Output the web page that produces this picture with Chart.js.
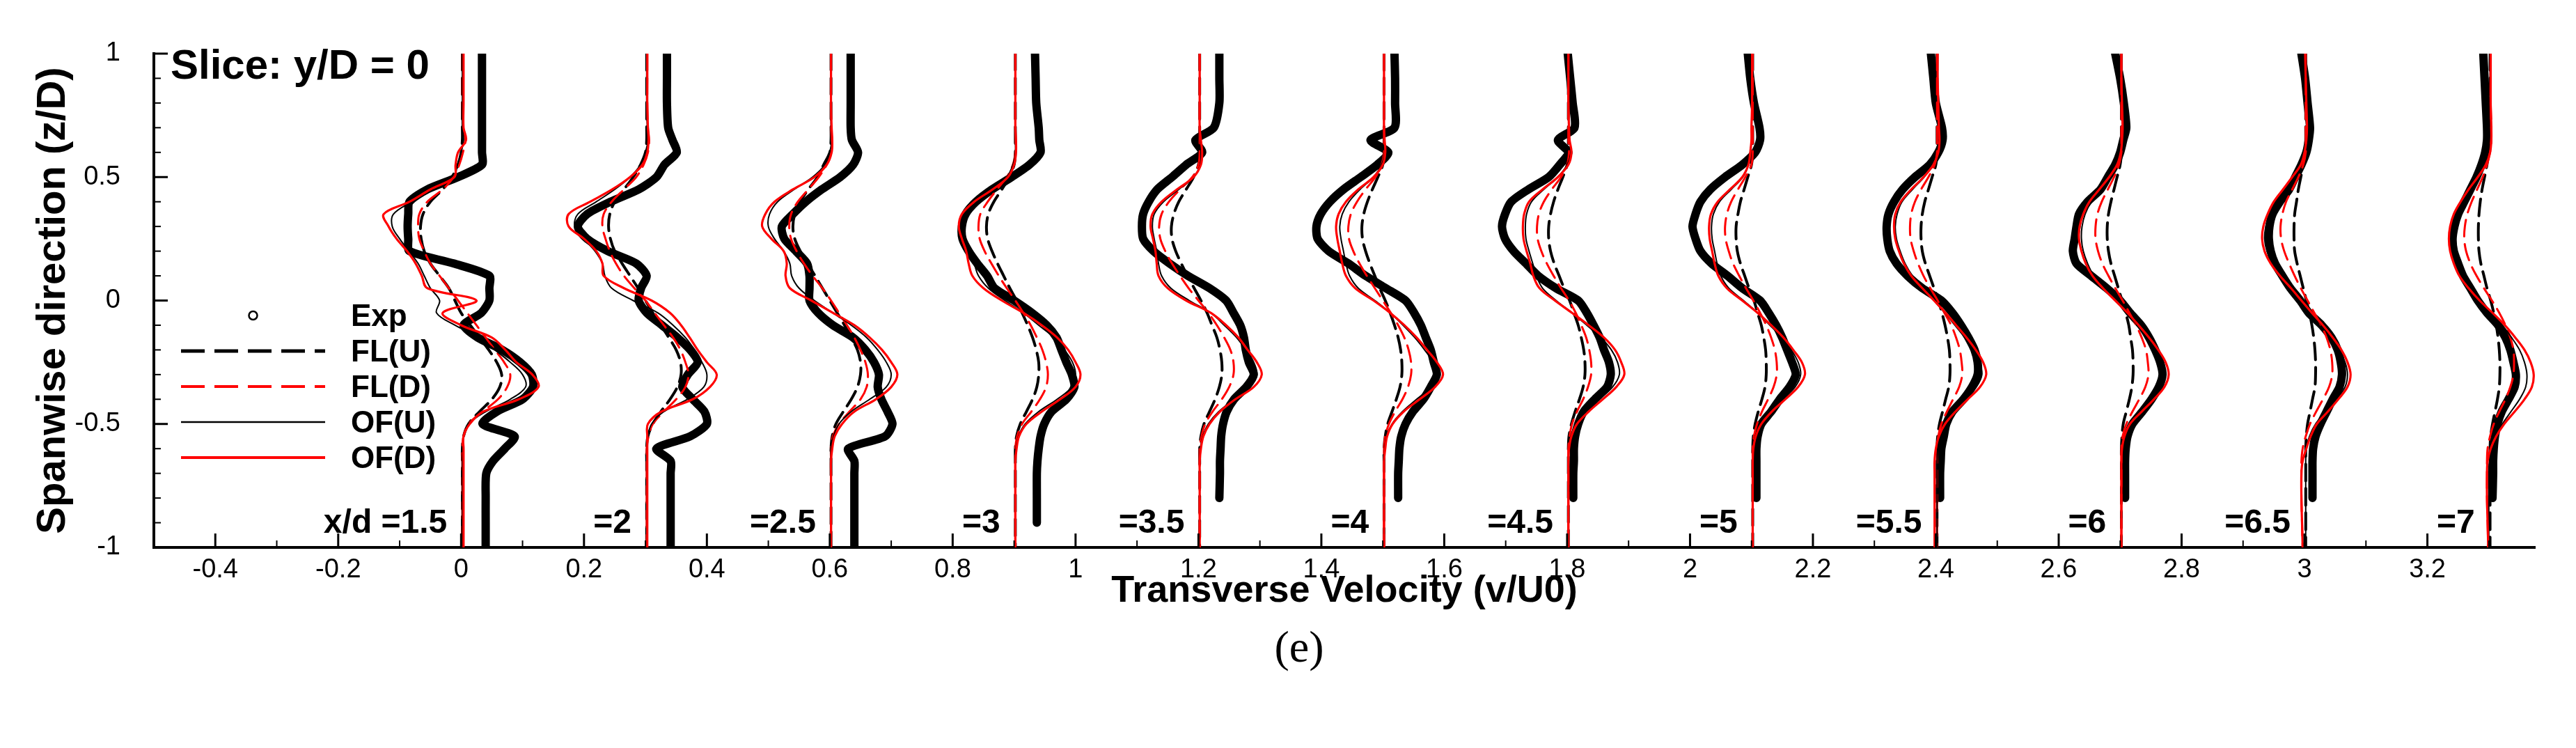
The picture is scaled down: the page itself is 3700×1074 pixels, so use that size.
<!DOCTYPE html>
<html>
<head>
<meta charset="utf-8">
<script src="https://cdn.jsdelivr.net/npm/chart.js@4.4.1/dist/chart.umd.min.js"></script>
<style>
  html, body { margin: 0; padding: 0; background: #fff; }
  #wrap { width: 3700px; height: 1074px; }
</style>
</head>
<body>
<div id="wrap"><canvas id="chart" width="3700" height="1074"></canvas></div>
<script>
const Z = [1, 0.9, 0.8, 0.7, 0.65, 0.6, 0.55, 0.5, 0.45, 0.4, 0.35, 0.3, 0.25, 0.2, 0.15, 0.1, 0.05, 0,
  -0.05, -0.1, -0.15, -0.2, -0.25, -0.3, -0.35, -0.4, -0.45, -0.5, -0.55, -0.6, -0.65, -0.7, -0.8, -0.9, -1];

// each profile is plotted shifted by 0.3 per station
const STATIONS = [0, 0.3, 0.6, 0.9, 1.2, 1.5, 1.8, 2.1, 2.4, 2.7, 3.0, 3.3];
const STATION_LABELS = ['x/d =1.5', '=2', '=2.5', '=3', '=3.5', '=4', '=4.5', '=5', '=5.5', '=6', '=6.5', '=7'];

const X_TICKS = [-0.4, -0.2, 0, 0.2, 0.4, 0.6, 0.8, 1, 1.2, 1.4, 1.6, 1.8, 2, 2.2, 2.4, 2.6, 2.8, 3, 3.2];
const Y_TICKS = [-1, -0.5, 0, 0.5, 1];

// v/U0 per station (rows) at each Z (columns)
const EXP = [
  [.034,.034,.034,.034,.034,.034,.034, -.005,-.055,-.084,-.086,-.087,-.086,-.084,-.012,.046,.046, .046, .033,.004,.027,.067,.096,.115,.117,.1,.058,.035, .087,.071,.052,.041,.04,.04,.04],
  [.035,.035,.035,.037,.044,.051,.031, .018,-.011,-.057,-.095,-.11,-.095,-.061,-.015,.002,-.007, -.011, .002,.027,.052,.073,.085,.069,.06,.077,.096,.1, .073,.018,.041,.041,.041,.041,.041],
  [.034,.034,.034,.034,.036,.046,.038, .017,-.013,-.039,-.06,-.078,-.074,-.055,-.037,-.033,-.033, -.033, -.019,.005,.038,.058,.072,.08,.078,.084,.094,.102, .09,.03,.04,.04,.04,.04,.04],
  [.034,.035,.036,.04,.041,.043,.025, -.004,-.036,-.062,-.079,-.085,-.084,-.074,-.06,-.044,-.032, 0, .029,.053,.069,.077,.085,.094,.098,.085,.061,.049, .043,.04,.038,.037,.037,.037,null],
  [.034,.034,.034,.025,-.005,.006,-.02, -.043,-.067,-.081,-.09,-.092,-.09,-.073,-.047,-.017,.018, .045, .057,.068,.074,.077,.082,.09,.078,.058,.046,.04, .037,.036,.035,.035,.034,null,null],
  [.019,.02,.02,.019,-.02,.009,-.009, -.036,-.064,-.086,-.101,-.108,-.106,-.088,-.056,-.028,.005, .037, .051,.062,.07,.078,.083,.088,.078,.066,.049,.037, .03,.027,.026,.025,.025,null,null],
  [.001,.005,.009,.012,-.015,.002,-.012, -.03,-.063,-.091,-.101,-.106,-.101,-.087,-.067,-.047,-.018, .018, .032,.043,.053,.06,.068,.071,.065,.045,.027,.018, .013,.011,.011,.01,.01,null,null],
  [-.006,-.002,.004,.013,.014,.006,-.015, -.043,-.067,-.083,-.091,-.096,-.091,-.083,-.065,-.039,-.015, .014, .028,.04,.05,.058,.066,.072,.062,.046,.032,.016, .01,.008,.008,.008,.008,null,null],
  [-.008,-.004,0,.01,.011,.004,-.01, -.034,-.054,-.068,-.077,-.08,-.079,-.075,-.064,-.046,-.022, .009, .027,.041,.053,.063,.068,.068,.059,.045,.027,.017, .013,.009,.008,.007,.007,null,null],
  [-.008,0,.006,.01,.005,0,-.008, -.02,-.032,-.053,-.067,-.071,-.074,-.077,-.071,-.047,-.022, 0, .016,.034,.047,.057,.065,.069,.063,.051,.036,.02, .012,.009,.008,.008,.008,null,null],
  [-.005,.001,.005,.009,.007,.003,-.005, -.015,-.025,-.04,-.052,-.057,-.058,-.055,-.048,-.036,-.023, -.007, .007,.028,.044,.054,.059,.061,.057,.046,.036,.026, .018,.014,.013,.013,.013,null,null],
  [-.009,-.007,-.005,-.003,-.003,-.006,-.012, -.02,-.03,-.04,-.05,-.056,-.059,-.057,-.05,-.042,-.03, -.018, -.003,.015,.027,.035,.04,.044,.042,.032,.021,.014, .01,.008,.007,.007,.006,null,null]
];

const FLU = [
  [.002,.002,.002,.002,.002,0,-.005, -.015,-.03,-.05,-.062,-.066,-.065,-.06,-.05,-.035,-.02, -.01, 0,.015,.03,.045,.058,.066,.063,.05,.03,.012, .004,.002,.002,.002,.002,.002,.002],
  [.002,.002,.002,.002,.002,0,-.008, -.02,-.035,-.05,-.058,-.06,-.057,-.05,-.038,-.025,-.012, 0, .012,.025,.038,.05,.057,.058,.052,.04,.025,.012, .004,.002,.002,.002,.002,.002,.002],
  [.002,.002,.002,.002,.002,0,-.01, -.02,-.035,-.048,-.057,-.06,-.057,-.048,-.036,-.024,-.012, 0, .012,.024,.035,.045,.05,.05,.045,.035,.022,.01, .004,.002,.002,.002,.002,.002,.002],
  [.002,.002,.002,.002,.002,.002,0, -.008,-.02,-.033,-.042,-.045,-.043,-.036,-.027,-.017,-.007, .004, .013,.022,.03,.036,.04,.04,.037,.03,.02,.01, .004,.002,.002,.002,.002,.002,.002],
  [.002,.002,.002,.002,.002,.002,0, -.008,-.02,-.032,-.04,-.044,-.043,-.037,-.028,-.018,-.007, .004, .014,.022,.03,.035,.038,.038,.034,.027,.018,.009, .004,.002,.002,.002,.002,.002,.002],
  [.002,.002,.002,.002,.002,.002,0, -.008,-.017,-.025,-.031,-.034,-.033,-.028,-.021,-.013,-.005, .004, .012,.019,.025,.029,.031,.031,.028,.022,.015,.008, .004,.002,.002,.002,.002,.002,.002],
  [.002,.002,.002,.002,.002,.002,0, -.007,-.015,-.022,-.027,-.03,-.03,-.027,-.021,-.013,-.005, .004, .011,.018,.023,.027,.029,.029,.026,.02,.013,.007, .003,.002,.002,.002,.002,.002,.002],
  [.002,.002,.002,.002,.002,.002,0, -.006,-.012,-.018,-.022,-.025,-.025,-.023,-.018,-.011,-.004, .004, .01,.016,.02,.023,.024,.024,.022,.017,.011,.006, .003,.002,.002,.002,.002,.002,.002],
  [.002,.002,.002,.002,.002,.002,0, -.006,-.012,-.018,-.022,-.024,-.024,-.022,-.017,-.01,-.003, .004, .01,.015,.019,.022,.023,.023,.021,.016,.011,.006, .003,.002,.002,.002,.002,.002,.002],
  [.002,.002,.002,.002,.002,.002,0, -.005,-.01,-.015,-.019,-.021,-.021,-.019,-.015,-.009,-.003, .003, .009,.014,.017,.02,.021,.021,.019,.015,.01,.005, .003,.002,.002,.002,.002,.002,.002],
  [.002,.002,.002,.002,.002,.001,-.002, -.006,-.01,-.013,-.016,-.017,-.017,-.016,-.012,-.007,-.002, .003, .008,.012,.015,.017,.018,.018,.017,.013,.009,.005, .003,.002,.002,.002,.002,.002,.002],
  [.002,.002,.002,.002,.002,0,-.003, -.007,-.011,-.014,-.016,-.017,-.017,-.016,-.013,-.008,-.003, .003, .008,.012,.015,.017,.018,.018,.017,.014,.01,.006, .003,.002,.002,.002,.002,.002,.002]
];

const FLD = [
  [.002,.002,.002,.003,.007,.003,-.003, -.012,-.03,-.055,-.068,-.07,-.068,-.06,-.05,-.035,-.02, -.005, .01,.025,.04,.055,.07,.08,.075,.06,.035,.012, .004,.002,.002,.002,.002,.002,.002],
  [.003,.003,.003,.004,.006,.004,-.003, -.015,-.035,-.055,-.068,-.07,-.065,-.058,-.048,-.035,-.018, 0, .015,.03,.045,.057,.065,.07,.065,.05,.03,.012, .005,.002,.002,.002,.002,.002,.002],
  [.002,.002,.002,.002,.003,.002,-.005, -.018,-.035,-.052,-.063,-.066,-.063,-.054,-.042,-.028,-.012, .002, .015,.028,.04,.05,.058,.062,.06,.05,.032,.015, .005,.002,.002,.002,.002,.002,.002],
  [.002,.002,.002,.002,.002,.002,-.002, -.012,-.028,-.043,-.055,-.058,-.056,-.048,-.037,-.025,-.012, .002, .015,.027,.037,.046,.052,.055,.052,.042,.028,.013, .005,.002,.002,.002,.002,.002,.002],
  [.002,.002,.002,.002,.002,.002,0, -.01,-.03,-.048,-.06,-.064,-.062,-.054,-.043,-.03,-.016, 0, .016,.03,.042,.052,.057,.057,.05,.038,.023,.011, .005,.002,.002,.002,.002,.002,.002],
  [.002,.002,.002,.002,.002,.002,-.002, -.012,-.028,-.042,-.052,-.056,-.055,-.048,-.038,-.026,-.013, 0, .013,.025,.035,.042,.046,.046,.041,.032,.02,.01, .004,.002,.002,.002,.002,.002,.002],
  [.002,.002,.002,.002,.002,.003,0, -.01,-.025,-.038,-.046,-.049,-.048,-.042,-.033,-.022,-.01, .003, .014,.023,.031,.036,.039,.039,.034,.026,.016,.008, .004,.002,.002,.002,.002,.002,.002],
  [.002,.002,.002,.002,.002,.002,0, -.01,-.022,-.033,-.04,-.043,-.042,-.037,-.03,-.02,-.009, .003, .014,.024,.032,.038,.041,.041,.036,.027,.017,.009, .004,.002,.002,.002,.002,.002,.002],
  [.002,.002,.002,.002,.002,.002,-.002, -.012,-.024,-.034,-.04,-.042,-.041,-.036,-.029,-.02,-.009, .003, .014,.025,.033,.039,.042,.043,.038,.028,.018,.009, .004,.002,.002,.002,.002,.002,.002],
  [.002,.002,.002,.002,.002,.002,-.002, -.01,-.02,-.03,-.037,-.04,-.04,-.036,-.029,-.019,-.008, .004, .015,.026,.035,.042,.045,.046,.041,.031,.02,.01, .004,.002,.002,.002,.002,.002,.002],
  [.002,.002,.002,.002,.002,.002,-.002, -.01,-.02,-.03,-.036,-.039,-.038,-.033,-.025,-.016,-.006, .005, .016,.027,.036,.042,.045,.045,.04,.03,.019,.009, .002,-.003,-.005,-.005,-.005,-.004,-.003],
  [.003,.003,.003,.004,.004,.002,-.003, -.01,-.019,-.028,-.035,-.039,-.04,-.037,-.03,-.02,-.008, .005, .017,.027,.035,.04,.041,.04,.035,.027,.017,.008, .002,-.002,-.003,-.003,-.003,-.002,-.001]
];

const OFU = [
  [.002,.002,.002,.002,.004,0,-.006, -.012,-.045,-.08,-.11,-.112,-.1,-.085,-.07,-.06,-.05, -.035, -.04,-.01,.03,.055,.08,.1,.105,.08,.04,.012, .004,.003,.002,.002,.002,.002,.002],
  [.002,.002,.002,.003,.004,0,-.008, -.025,-.05,-.08,-.11,-.115,-.1,-.082,-.07,-.066,-.055, -.02, .02,.045,.065,.08,.092,.1,.095,.068,.03,.01, .004,.002,.002,.002,.002,.002,.002],
  [.002,.002,.002,.002,.003,0,-.008, -.028,-.058,-.085,-.098,-.1,-.09,-.075,-.065,-.062,-.05, -.025, .005,.035,.06,.078,.092,.1,.092,.065,.035,.015, .006,.002,.002,.002,.002,.002,.002],
  [.002,.002,.002,.002,.002,.002,-.002, -.012,-.035,-.062,-.08,-.085,-.08,-.072,-.065,-.058,-.042, -.015, .015,.04,.065,.082,.095,.1,.094,.07,.04,.018, .007,.003,.002,.002,.002,.002,.002],
  [.002,.002,.002,.002,.003,.004,.003, -.008,-.032,-.057,-.072,-.075,-.072,-.068,-.065,-.06,-.045, -.015, .02,.042,.062,.077,.09,.095,.083,.058,.033,.016, .007,.003,.002,.002,.002,.002,.002],
  [.002,.002,.002,.002,.003,.003,-.002, -.015,-.037,-.055,-.066,-.07,-.068,-.064,-.06,-.054,-.04, -.013, .012,.033,.052,.068,.082,.09,.078,.055,.032,.015, .006,.003,.002,.002,.002,.002,.002],
  [.002,.002,.002,.003,.004,.006,0, -.015,-.038,-.058,-.066,-.068,-.067,-.062,-.056,-.05,-.04, -.018, .008,.032,.055,.072,.082,.085,.074,.052,.03,.014, .006,.003,.002,.002,.002,.002,.002],
  [.001,.001,.001,0,0,-.002,-.005, -.014,-.033,-.052,-.062,-.065,-.064,-.06,-.056,-.05,-.037, -.013, .01,.03,.05,.065,.076,.08,.071,.051,.031,.015, .006,.003,.002,.002,.002,.002,.002],
  [.003,.003,.004,.005,.006,.004,-.004, -.019,-.038,-.055,-.063,-.066,-.064,-.058,-.05,-.038,-.021, -.003, .015,.031,.047,.061,.071,.075,.066,.048,.03,.014, .006,.003,.002,.002,.002,.002,.002],
  [.002,.002,.003,.004,.003,.001,-.005, -.017,-.032,-.047,-.057,-.062,-.063,-.06,-.053,-.043,-.027, -.008, .011,.028,.044,.058,.069,.073,.067,.051,.032,.015, .007,.003,.002,.002,.002,.002,.002],
  [.001,.002,.003,.004,.003,0,-.006, -.019,-.033,-.048,-.057,-.063,-.065,-.061,-.052,-.038,-.021, -.005, .011,.028,.043,.056,.066,.07,.066,.052,.035,.018, .008,.003,.002,.002,.002,.002,.002],
  [.002,.002,.003,.004,.004,.002,-.005, -.016,-.029,-.041,-.051,-.056,-.058,-.056,-.05,-.042,-.029, -.013, .005,.022,.037,.05,.058,.062,.06,.05,.036,.022, .011,.004,.001,0,0,0,0]
];

const OFD = [
  [.004,.004,.004,.004,.008,-.005,-.009, -.011,-.05,-.084,-.126,-.118,-.105,-.088,-.074,-.064,-.055, .025, -.03,0,.05,.072,.09,.116,.126,.094,.036,.014, .004,.004,.004,.004,.004,.004,.004],
  [.003,.003,.003,.004,.005,.003,-.005, -.025,-.054,-.09,-.125,-.125,-.1,-.08,-.07,-.068,-.035, .01, .04,.058,.072,.085,.1,.116,.105,.077,.026,.004, .003,.003,.003,.003,.003,.003,.003],
  [.002,.002,.002,.003,.004,.003,-.005, -.025,-.06,-.09,-.105,-.11,-.095,-.075,-.07,-.072,-.065, -.03, .005,.04,.065,.085,.1,.11,.1,.075,.04,.02, .008,.004,.002,.002,.002,.002,.002],
  [.002,.002,.002,.002,.003,.003,0, -.01,-.035,-.065,-.085,-.09,-.085,-.078,-.074,-.068,-.05, -.02, .015,.045,.07,.088,.1,.108,.1,.075,.045,.02, .008,.004,.002,.002,.002,.002,.002],
  [.002,.002,.002,.002,.004,.006,.004, -.008,-.035,-.06,-.075,-.078,-.074,-.07,-.068,-.065,-.05, -.02, .02,.045,.065,.08,.095,.103,.09,.06,.035,.018, .008,.004,.002,.002,.002,.002,.002],
  [.002,.002,.002,.002,.003,.004,0, -.015,-.04,-.06,-.072,-.076,-.074,-.07,-.066,-.06,-.045, -.015, .012,.035,.055,.072,.088,.098,.085,.06,.034,.016, .007,.004,.002,.002,.002,.002,.002],
  [.002,.002,.002,.003,.004,.007,.002, -.015,-.04,-.062,-.07,-.072,-.071,-.066,-.06,-.055,-.045, -.02, .008,.035,.06,.078,.088,.093,.08,.058,.035,.016, .007,.003,.002,.002,.002,.002,.002],
  [.001,.001,.001,0,0,-.002,-.005, -.015,-.035,-.055,-.066,-.069,-.068,-.064,-.06,-.054,-.04, -.015, .01,.032,.052,.068,.082,.087,.076,.055,.033,.016, .007,.003,.002,.002,.002,.002,.002],
  [.003,.003,.004,.005,.006,.004,-.004, -.02,-.04,-.057,-.066,-.068,-.066,-.06,-.052,-.04,-.022, -.003, .016,.033,.05,.065,.077,.082,.072,.052,.032,.015, .005,0,-.002,-.002,-.002,-.002,-.002],
  [.002,.002,.003,.004,.003,.001,-.005, -.018,-.034,-.05,-.06,-.066,-.067,-.063,-.056,-.045,-.028, -.008, .012,.03,.047,.062,.074,.079,.072,.055,.035,.016, .007,.003,.002,.002,.002,.002,.002],
  [.001,.002,.003,.004,.003,0,-.006, -.02,-.035,-.05,-.06,-.067,-.069,-.065,-.055,-.04,-.022, -.005, .012,.03,.046,.06,.07,.075,.07,.055,.038,.02, .01,.003,-.003,-.005,-.005,-.004,-.003],
  [.003,.003,.003,.004,.004,.002,-.005, -.018,-.033,-.046,-.057,-.063,-.065,-.063,-.057,-.048,-.033, -.015, .006,.026,.043,.058,.068,.073,.07,.058,.042,.025, .012,.003,-.002,-.003,-.003,-.002,-.001]
];

const FONT = '"Liberation Sans", Arial, Helvetica, sans-serif';

// drawing order: lower "order" is painted on top
const SERIES = [
  { label: 'Exp',   rows: EXP, color: '#000000', width: 12,  dash: [],       order: 5, tension: 0.25 },
  { label: 'FL(U)', rows: FLU, color: '#000000', width: 4,   dash: [24, 11], order: 4, tension: 0.35 },
  { label: 'FL(D)', rows: FLD, color: '#ff0000', width: 3,   dash: [24, 11], order: 3, tension: 0.35 },
  { label: 'OF(U)', rows: OFU, color: '#000000', width: 2,   dash: [],       order: 2, tension: 0.35 },
  { label: 'OF(D)', rows: OFD, color: '#ff0000', width: 3.2, dash: [],       order: 1, tension: 0.35 }
];

const datasets = [];
SERIES.forEach(s => {
  STATIONS.forEach((off, i) => {
    const pts = [];
    Z.forEach((z, j) => {
      const v = s.rows[i][j];
      if (v !== null && v !== undefined) pts.push({ x: off + v, y: z });
    });
    datasets.push({
      label: s.label,
      data: pts,
      showLine: true,
      borderColor: s.color,
      backgroundColor: s.color,
      borderWidth: s.width,
      borderDash: s.dash,
      borderCapStyle: 'round',
      borderJoinStyle: 'round',
      pointRadius: 0,
      tension: s.tension,
      order: s.order
    });
  });
});

const fmt = v => String(Math.round(v * 10) / 10);

const overlay = {
  id: 'overlay',
  afterDraw(chart) {
    const { ctx, chartArea: a, scales: { x, y } } = chart;
    const seg = (x1, y1, x2, y2) => { ctx.beginPath(); ctx.moveTo(x1, y1); ctx.lineTo(x2, y2); ctx.stroke(); };
    const isMajor = (list, v) => list.some(t => Math.abs(t - v) < 1e-6);
    ctx.save();
    ctx.strokeStyle = '#000';
    ctx.setLineDash([]);

    // inward ticks
    ctx.lineWidth = 3;
    X_TICKS.forEach(v => { const px = x.getPixelForValue(v); seg(px, a.bottom, px, a.bottom - 20); });
    Y_TICKS.forEach(v => { const py = y.getPixelForValue(v); seg(a.left, py, a.left + 20, py); });
    ctx.lineWidth = 2;
    for (let k = -4; k <= 33; k++) {
      const v = k / 10;
      if (isMajor(X_TICKS, v)) continue;
      const px = x.getPixelForValue(v);
      seg(px, a.bottom, px, a.bottom - 10);
    }
    for (let k = -9; k <= 9; k++) {
      const v = k / 10;
      if (isMajor(Y_TICKS, v)) continue;
      const py = y.getPixelForValue(v);
      seg(a.left, py, a.left + 10, py);
    }

    // slice title
    ctx.fillStyle = '#000';
    ctx.textBaseline = 'alphabetic';
    ctx.textAlign = 'left';
    ctx.font = 'bold 60px ' + FONT;
    ctx.fillText('Slice: y/D = 0', 245, 113);

    // station labels
    ctx.font = 'bold 48px ' + FONT;
    ctx.textAlign = 'right';
    STATIONS.forEach((off, i) => {
      ctx.fillText(STATION_LABELS[i], x.getPixelForValue(off) - 20, a.bottom - 21);
    });

    // legend
    const lx0 = 260, lx1 = 467, tx = 504;
    SERIES.forEach((s, i) => {
      const base = 468 + i * 51;
      const ly = base - 15;
      ctx.strokeStyle = s.color;
      if (s.label === 'Exp') {
        ctx.lineWidth = 2.5;
        ctx.setLineDash([]);
        ctx.fillStyle = '#fff';
        ctx.beginPath();
        ctx.arc((lx0 + lx1) / 2, ly, 6, 0, Math.PI * 2);
        ctx.fill();
        ctx.stroke();
      } else {
        ctx.lineWidth = s.width === 2 ? 2.5 : s.width + 1;
        ctx.setLineDash(s.dash.length ? [34, 14] : []);
        seg(lx0, ly, lx1, ly);
      }
      ctx.setLineDash([]);
      ctx.fillStyle = '#000';
      ctx.textAlign = 'left';
      ctx.font = 'bold 44px ' + FONT;
      ctx.fillText(s.label, tx, base);
    });

    // panel caption
    ctx.textAlign = 'center';
    ctx.font = '64px "Liberation Serif", "Times New Roman", serif';
    ctx.fillText('(e)', 1866, 950);
    ctx.restore();
  }
};

new Chart(document.getElementById('chart').getContext('2d'), {
  type: 'scatter',
  data: { datasets },
  options: {
    responsive: false,
    animation: false,
    events: [],
    layout: { padding: { top: 77, right: 59, left: 0, bottom: 0 } },
    plugins: { legend: { display: false }, tooltip: { enabled: false } },
    scales: {
      x: {
        type: 'linear',
        min: -0.5,
        max: 3.375,
        grid: { display: false },
        border: { display: true, color: '#000', width: 4 },
        afterBuildTicks: s => { s.ticks = X_TICKS.map(v => ({ value: v })); },
        afterFit: s => { s.height = 288; },
        ticks: {
          color: '#000', padding: 2, maxRotation: 0, minRotation: 0, autoSkip: false,
          font: { family: FONT, size: 38 },
          callback: v => fmt(v)
        },
        title: {
          display: true, text: 'Transverse Velocity (v/U0)', color: '#000',
          font: { family: FONT, size: 54, weight: 'bold' },
          padding: { top: 0, bottom: 192 }
        }
      },
      y: {
        type: 'linear',
        min: -1,
        max: 1,
        grid: { display: false },
        border: { display: true, color: '#000', width: 4 },
        afterBuildTicks: s => { s.ticks = Y_TICKS.map(v => ({ value: v })); },
        afterFit: s => { s.width = 221; },
        ticks: {
          color: '#000', padding: 40, autoSkip: false,
          font: { family: FONT, size: 38 },
          callback: v => fmt(v)
        },
        title: {
          display: true, text: 'Spanwise direction (z/D)', color: '#000',
          font: { family: FONT, size: 58, weight: 'bold' },
          padding: { top: 42, bottom: 0 }
        }
      }
    }
  },
  plugins: [overlay]
});
</script>
</body>
</html>
